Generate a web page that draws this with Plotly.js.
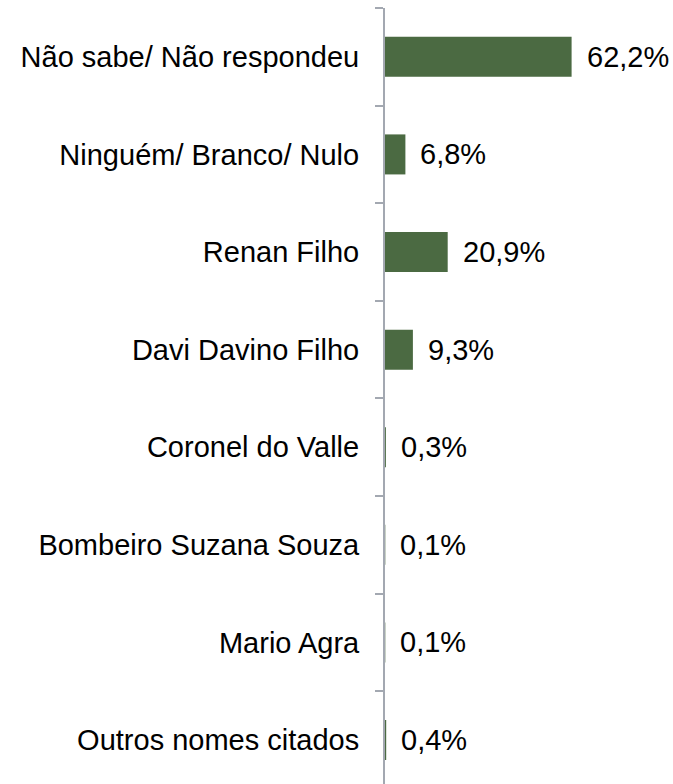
<!DOCTYPE html>
<html>
<head>
<meta charset="utf-8">
<script src="https://cdn.plot.ly/plotly-3.0.1.min.js"></script>
<style>html,body{margin:0;padding:0;background:#fff;}#chart{width:673px;height:784px;}</style>
</head>
<body>
<div id="chart"></div>
<script>
const categories = [
  "Não sabe/ Não respondeu",
  "Ninguém/ Branco/ Nulo",
  "Renan Filho",
  "Davi Davino Filho",
  "Coronel do Valle",
  "Bombeiro Suzana Souza",
  "Mario Agra",
  "Outros nomes citados"
];
const values = [62.2, 6.8, 20.9, 9.3, 0.3, 0.1, 0.1, 0.4];
const valueLabels = ["62,2%", "6,8%", "20,9%", "9,3%", "0,3%", "0,1%", "0,1%", "0,4%"];

const FONT = "Arial, 'Liberation Sans', sans-serif";

const trace = {
  type: "bar",
  orientation: "h",
  x: values,
  y: categories,
  marker: { color: "#4b6a42", line: { width: 0 } },
  hoverinfo: "skip"
};

const annotations = values.map((v, i) => ({
  x: v, y: categories[i], xref: "x", yref: "y",
  text: valueLabels[i], showarrow: false,
  xanchor: "left", yanchor: "middle", xshift: 13,
  font: { family: FONT, size: 29, color: "#000" }
}));

const layout = {
  width: 673, height: 784,
  margin: { l: 385, r: 0, t: 8, b: 0, pad: 0 },
  paper_bgcolor: "#fff", plot_bgcolor: "#fff",
  showlegend: false,
  bargap: 0.59,
  xaxis: { range: [0, 96], visible: false, fixedrange: true },
  yaxis: {
    type: "category",
    range: [7.45, -0.5],
    showline: true, linecolor: "#a3a8b1", linewidth: 2,
    ticks: "outside", tickson: "boundaries", ticklen: 8, tickcolor: "#a3a8b1", tickwidth: 2,
    showgrid: false, zeroline: false,
    ticklabelstandoff: 18,
    tickfont: { family: FONT, size: 29, color: "#000" },
    fixedrange: true
  },
  annotations: annotations
};

Plotly.newPlot("chart", [trace], layout, { displayModeBar: false, staticPlot: true });
</script>
</body>
</html>
